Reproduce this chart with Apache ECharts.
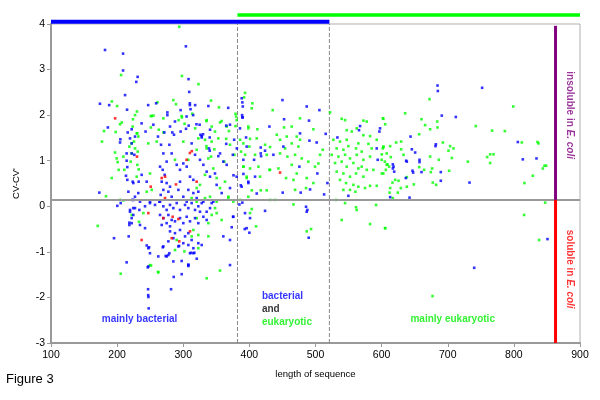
<!DOCTYPE html>
<html><head><meta charset="utf-8">
<script src="https://cdn.jsdelivr.net/npm/echarts@6/dist/echarts.min.js"></script>
<style>html,body{margin:0;padding:0;background:#fff}#c{width:600px;height:400px}</style>
</head><body><div id="c"></div>
<script>
// ---- data (length of sequence, CV-CV') ----
const xRange = [100, 900];
const yRange = [-3, 4];
const splitLengths = [382, 521];
const cvThreshold = 0.14;
const solubilityLength = 863;
const bacterialSpan = [100, 521];
const eukaryoticSpan = [382, 900];

const bluePoints = [
[181.7,3.43],[209,3.35],[209,2.98],[231,2.84],[229,2.73],[212,2.44],[304,3.51],[308,2.79],[309,2.51],[174,2.25],[188,2.22],[215,2.12],[247,2.22],[259,2.26],[276,2.06],[276,2.0],[296,2.11],[310,2.26],[310,2.22],[318,2.22],[311,2.13],[186,1.73],[216,1.62],[237,1.82],[243,1.64],[280,1.75],[286,1.57],[296,1.64],[305,1.97],[315,2.0],[320,1.8],
[338,2.2],[368,2.16],[365,1.77],[377,1.46],[365,1.37],[353,1.1],[375,1.13],[381,1.27],[376,0.68],[340,1.51],[328,1.51],[326,1.57],[339,1.27],[340,1.22],
[254.8,1.79],[287.5,1.86],[261.8,1.53],[283.5,1.62],[304.2,1.70],[308.2,1.77],[324.8,1.79],[327.9,1.54],[329.9,1.58],[271.4,1.62],[340.5,1.68],[370.7,1.79],[389.9,1.95],[385.8,1.71],[395.9,1.31],[390.9,1.02],[380.8,0.65],[388.3,0.43],[398.4,0.54],[266.4,1.35],[279,1.35],[282.5,1.16],[269.9,1.16],[274.9,0.98],[264.9,0.87],[268.9,0.80],[271.9,0.69],[267.4,0.54],[274.9,0.51],[280,0.43],[277.5,0.32],[282.5,0.21],[269.9,0.36],[265.9,0.25],[290.1,0.91],[295.1,0.80],[300.1,0.94],[305.2,0.87],[310.2,0.65],[315.3,0.58],[307.7,0.36],[315.3,0.29],[322.8,0.32],[320.3,0.18],[295.1,0.54],[292.6,0.36],[300.1,0.21],[312.7,1.38],[317.8,1.13],[325.3,1.02],[330.4,0.91],[335.4,0.76],[340.5,0.65],[348,0.72],[355.6,1.16],[360.6,0.98],[365.7,0.91],[350.5,0.47],[358.1,0.29],[370.7,0.40],[224.5,0.14],[234.6,0.10],[249.7,0.10],[263.9,0.10],[305.2,0.10],[330.4,0.10],[345.5,0.10],[244.7,0.54],[224.5,0.51],[237.1,0.69],[227.1,1.53],[222,1.16],
[224.5,-0.04],[233.6,-0.08],[242.2,0.0],[249.7,0.07],[257.3,0.03],[264.9,0.10],[269.9,0.0],[274.9,-0.08],[280,0.03],[285,-0.04],[290.1,0.07],[295.1,-0.08],[302.7,0.03],[307.7,-0.04],[312.7,0.07],[317.8,-0.08],[322.8,0.0],[325.3,-0.12],[327.9,0.07],[264.9,-0.19],[269.9,-0.26],[277.5,-0.19],[282.5,-0.30],[274.9,-0.37],[267.4,-0.41],[280,-0.44],[287.5,-0.33],[295.1,-0.26],[300.1,-0.37],[305.2,-0.23],[310.2,-0.33],[317.8,-0.26],[322.8,-0.37],[330.4,-0.23],[335.4,-0.30],[280,-0.55],[287.5,-0.59],[295.1,-0.52],[302.7,-0.66],[307.7,-0.59],[312.7,-0.74],[307.7,-0.85],[315.3,-0.92],[310.2,-1.03],[300.1,-0.81],[292.6,-0.88],[285,-0.70],[277.5,-0.77],[269.9,-0.88],[279,-1.03],[274.9,-1.10],[262.3,-1.10],[247.2,-0.92],[249.7,-1.03],[242.2,-0.48],[234.6,-0.41],[247.2,-1.32],[297.6,-1.20],[307.7,-1.29],[315.3,-1.03],[360.6,-0.66],[370.7,-0.74],[375.7,-0.23],[395.9,-0.48],[393.4,-0.15],[219.5,-0.12],[343,0.07],[335.4,-0.12],[340.5,-0.04],[322.8,-0.81],[327.9,-0.85],[370.7,-1.29],
[222,1.69],[204.9,1.47],[204.4,1.40],[219.5,1.49],[222,1.38],[214.4,1.16],[226,1.13],[214.4,1.00],[215.4,0.86],[213.4,0.67],[215.4,0.58],[223.5,0.54],[232.6,0.54],[173.1,0.30],[217,0.32],[223,0.14],[227,0.21],[232,0.29],[205.4,0.07],[200.3,0.01],[219.5,-0.08],[227,-0.04],[224.5,-0.19],[222,-0.26],[218.5,-0.36],[222,-0.37],[218.5,-0.41],[195.3,-0.70],[217.5,-0.66],[214.4,-1.23],
[246.3,-1.34],[246.8,-1.82],[247,-1.95],[247.3,-1.99],[247.8,-2.24],[281.6,-1.82],[285.6,-1.55],[297.7,-1.49],[307.7,-1.28],[307.7,-1.31],[285,-1.21],[269,-0.9],[277.5,-1.07],[273.5,-1.09],[293.7,-0.87],[311.8,-1.02],[316.8,-1.02],[320.4,-1.15],[244.8,-0.86],[248.3,-0.90],
[388.4,2.37],[389.4,2.28],[390,2.19],[389,2.0],[389.4,1.95],[450,2.33],[452.5,1.91],[486.7,2.19],[505.9,2.11],[490.2,1.88],[430.3,1.75],[395,1.51],[417.2,1.29],[417.2,1.16],[417.7,1.10],[423.7,1.22],[407.1,1.02],[436.3,1.13],[451.4,1.31],[476.6,1.6],[490.8,1.44],[501.8,1.40],[515.4,1.59],[475.6,0.87],[391,0.71],[408.6,0.65],[398.5,0.51],[502.8,0.72],[518,0.51],[450.4,0.30],[477.6,0.30],[491.8,0.37],[513,0.26],[411.1,0.28],[387,0.46],[533.1,1.51],[567.4,1.76],[565.8,1.67],[597.6,1.71],[596.6,1.64],[592.6,1.27],[594.1,1.02],[549.7,0.23],[384.9,0.04],[389.4,0.08],[393,-0.50],[400,-0.58],[401,-0.26],[423.7,-0.10],[485.7,-0.01],[487.7,-0.08],[486.7,-0.12],[489.7,-0.69],[375.3,-0.23],[373.3,-0.46],
[684.5,2.65],[685,2.53],[752,2.60],[691,1.99],[712.2,1.96],[643.7,1.53],[806,1.41],[682,1.36],[681.5,1.32],[645.7,1.25],[650.7,1.18],[637.1,1.00],[638.1,0.98],[657.3,1.02],[657.3,0.97],[813.5,1.03],[834.2,1.05],[617,0.92],[618,0.87],[617,0.83],[619,0.76],[646.7,0.78],[647.7,0.74],[660.3,0.75],[689.5,0.75],[636.6,0.62],[689.5,0.56],[732.9,0.52],[612.9,0.20],[642.2,0.19],[850.8,-0.72],[740,-1.35]
];

const greenPoints = [
[294,3.94],[298,2.86],[206,2.88],[192,2.3],[200,2.2],[230,2.08],[261,2.28],[285,2.33],[289,2.24],[323,2.68],[207,1.84],[224,1.91],[251,1.98],[255,1.99],[251,1.73],[263,1.68],[270,1.62],[293,1.89],[298,1.95],[302,1.81],[318,1.71],
[342,2.32],[354,2.17],[379,2.03],[335,1.87],[348,1.64],[358,1.87],[369,1.65],[379,1.76],[365,1.48],[347,1.25],[362,0.98],[335,1.32],[342,1.09],
[227.1,2.0],[252.3,1.98],[269.9,1.93],[297.6,1.98],[313.7,2.03],[335.4,1.89],[343,1.75],[355.6,1.84],[365.7,1.75],[380.8,1.89],[398.4,1.75],[223.5,1.75],[232.1,1.53],[222,1.38],[229.6,1.60],[247.2,1.38],[259.8,1.42],[300.1,1.42],[322.8,1.49],[332.9,1.46],[343,1.42],[353,1.49],[370.7,1.35],[390.9,1.38],[230.6,0.91],[229.6,0.65],[249.7,0.72],[252.3,0.36],[244.7,0.32],[287.5,1.02],[307.7,1.02],[320.3,1.24],[335.4,1.27],[337.9,1.05],[345.5,0.83],[332.9,0.69],[350.5,0.62],[355.6,0.40],[363.1,0.54],[325.3,0.47],[320.3,0.40],[368.2,0.18],[340.5,0.21],[390.9,0.87],[395.9,0.65],[398.4,0.21],[385.8,0.14],
[222,-0.19],[239.7,-0.15],[312.7,0.18],[320.3,0.10],[332.9,0.18],[350.5,0.10],[368.2,0.21],[343,-0.19],[350.5,-0.15],[358.1,-0.30],[338,-0.37],[320.3,-0.26],[315.3,-0.52],[322.8,-0.63],[312.7,-0.66],[338,-0.66],[290.1,-0.74],[287.5,-0.96],[322.8,-0.92],[249.7,-1.29],[262.3,-1.45],[355.6,-1.41],[335.4,-1.58],[348,-0.04],
[204.4,1.80],[180.2,1.65],[197.8,1.63],[230.6,1.60],[177.1,1.42],[225.5,1.42],[218.5,1.31],[227.1,1.27],[196.8,1.18],[222,1.16],[231.1,1.20],[199.3,1.05],[209.4,1.09],[220.5,0.98],[200.8,0.97],[202.3,0.80],[210.9,0.80],[232.6,0.81],[191.8,0.62],[183.2,0.22],[204.4,0.14],[209.4,0.13],[170.6,-0.43],[205.4,-1.48],[233.1,-0.34],
[251.3,-1.30],[261.9,-1.44],[301.7,-0.99],
[393.5,2.49],[392,2.39],[404.6,2.26],[403.6,2.15],[435.3,2.11],[476.6,1.93],[452.5,1.73],[464,1.75],[398.5,1.71],[412.1,1.69],[496.8,1.69],[386,1.46],[401,1.48],[411.1,1.49],[441.4,1.57],[446.4,1.46],[456.5,1.53],[471.6,1.53],[476.6,1.46],[464,1.38],[474.1,1.31],[454,1.27],[431.3,1.30],[423.7,1.35],[400,1.31],[387.4,1.20],[393.5,1.13],[408.6,1.13],[426.2,1.13],[446.4,1.16],[457.5,1.09],[469.1,1.13],[479.2,1.05],[489.2,0.98],[506.9,1.13],[510.9,1.24],[391,0.87],[401,0.83],[413.6,0.87],[431.3,0.80],[443.9,0.83],[464,0.91],[471.6,0.72],[499.3,0.87],[504.4,0.94],[396,0.62],[416.2,0.65],[430.3,0.80],[455.5,0.62],[466.6,0.58],[486.7,0.62],[496.8,0.51],[403.6,0.35],[417.2,0.35],[426.2,0.35],[469.1,0.36],[485.7,0.40],[431.3,0.14],[438.8,0.14],[466.6,0.04],[403.6,-0.06],[401,-0.15],[410.1,-0.44],[486.7,-0.55],[493.3,-0.50],[375.8,0.10],[377.4,1.13],[379.9,1.97],
[522,2.06],[539.6,1.92],[544.7,1.89],[572.4,1.88],[577.5,1.86],[602.6,1.92],[547.2,1.67],[554.8,1.64],[562.3,1.71],[572.4,1.56],[582.5,1.54],[527,1.46],[537.1,1.42],[547.2,1.46],[564.8,1.38],[580,1.37],[592.6,1.46],[602.6,1.31],[532,1.27],[542.2,1.24],[549.7,1.32],[561.3,1.27],[569.9,1.20],[585,1.27],[607.7,1.16],[524.5,1.13],[534.6,1.09],[544.7,1.13],[552.2,1.05],[562.3,1.13],[572.4,1.02],[582.5,1.09],[600.1,1.02],[529.6,0.95],[539.6,0.98],[547.2,0.87],[557.3,0.95],[564.8,0.83],[569.9,0.87],[577.5,0.80],[587.5,0.80],[602.6,0.72],[607.7,0.91],[532.1,0.76],[542.2,0.72],[552.2,0.65],[561.3,0.72],[572.4,0.65],[537.1,0.58],[546.2,0.51],[557.3,0.47],[564.8,0.43],[574.9,0.40],[582.5,0.45],[592.6,0.45],[552.2,0.36],[560.3,0.32],[542.2,0.36],[531,0.14],[544.7,0.07],[561.3,-0.02],[562.3,-0.08],[539.6,-0.30],[582.5,-0.39],[591.6,0.03],[605.2,-0.48],
[672.4,2.35],[799,2.19],[635.6,2.04],[601.8,1.93],[605.4,1.80],[660.3,1.91],[665.8,1.78],[684,1.86],[684.5,1.73],[673.4,1.69],[742.4,1.76],[767.1,1.66],[786.3,1.65],[656.8,1.58],[812,1.40],[835.7,1.41],[837.2,1.38],[622,1.40],[629.5,1.42],[692.6,1.40],[703.6,1.32],[708.7,1.27],[701.1,1.22],[601.8,1.27],[602.8,1.30],[612.9,1.32],[629.5,1.25],[633.1,1.13],[613.9,1.08],[600.3,1.14],[604.9,0.98],[608.9,0.92],[673.4,1.09],[686.5,1.02],[706.2,1.06],[764.1,1.14],[769.2,1.14],[759.6,1.08],[730.4,0.98],[764.1,0.95],[848.8,0.89],[846.3,0.89],[843.8,0.83],[611.4,0.87],[606.4,0.80],[600.3,0.72],[656.8,0.86],[664.3,0.80],[676.4,0.83],[702.1,0.78],[674.4,0.75],[828.6,0.67],[620.5,0.58],[625.5,0.56],[638.1,0.64],[677.4,0.52],[682.5,0.47],[648.7,0.48],[638.1,0.43],[612.9,0.40],[629.1,0.40],[616.4,0.52],[816,0.51],[624.5,0.30],[612,0.30],[616.9,0.18],[847.3,0.08],[815.5,-0.19],[605.4,-0.48],[838.2,-0.74],[677,-1.97]
];

const redPoints = [
[197,1.93],[230,1.09],[310,1.17],[313,1.21],[305,1.02],[272.5,0.65],[250.8,0.43],[320.3,0.54],[267.4,0.62],[289,0.48],[272.4,0.18],[247.2,-0.15],[269.9,-0.26],[284,-0.23],[292.6,-0.28],[310.2,-0.55],[282.5,-0.70],[294,-0.77],[237.1,-0.74],[446.4,0.74]
];

const FONT = 'Arial, "Liberation Sans", sans-serif';
const chart = echarts.init(document.getElementById('c'), null, {renderer: 'canvas'});

function seg(data, color, width, extra) {
  return Object.assign({
    type: 'line', data: data, showSymbol: false, symbol: 'none', silent: true, clip: false,
    lineStyle: {color: color, width: width}, animation: false, z: 1
  }, extra || {});
}
function dots(data, color, z) {
  return {type: 'scatter', data: data, symbol: 'rect', symbolSize: 2.6,
    itemStyle: {color: color}, silent: true, animation: false, z: z};
}
function textMark(pt, text, opts) {
  return {type: 'scatter', data: [pt], symbolSize: 0, silent: true, animation: false, z: 10,
    label: Object.assign({show: true, position: [0, 0], formatter: text, fontFamily: FONT,
      align: 'center', verticalAlign: 'middle'}, opts)};
}

const option = {
  animation: false,
  backgroundColor: '#fff',
  grid: {left: 51, right: 20, top: 24, bottom: 57, show: true, borderColor: '#b0b0b0', borderWidth: 1},
  xAxis: {
    type: 'value', min: xRange[0], max: xRange[1], interval: 100,
    name: 'length of sequence', nameLocation: 'middle', nameGap: 26,
    nameTextStyle: {fontFamily: FONT, fontSize: 9.5, color: '#000'},
    axisLine: {show: true, onZero: false, lineStyle: {color: '#999', width: 2}},
    axisTick: {show: true, length: 4, lineStyle: {color: '#999', width: 1}},
    axisLabel: {fontFamily: FONT, fontSize: 10.5, color: '#000', margin: 7},
    splitLine: {show: false}
  },
  yAxis: {
    type: 'value', min: yRange[0], max: yRange[1], interval: 1,
    name: "CV-CV'", nameLocation: 'middle', nameGap: 30, nameRotate: 90,
    nameTextStyle: {fontFamily: FONT, fontSize: 9.5, color: '#000'},
    axisLine: {show: true, onZero: false, lineStyle: {color: '#999', width: 2}},
    axisTick: {show: true, length: 4, lineStyle: {color: '#999', width: 1}},
    axisLabel: {fontFamily: FONT, fontSize: 10.5, color: '#000', margin: 6},
    splitLine: {show: false}
  },
  graphic: [{type: 'text', left: 6, top: 373, style: {text: 'Figure 3', fontFamily: FONT, fontSize: 13, fill: '#000'}}],
  series: [
    seg([[splitLengths[0], yRange[0]], [splitLengths[0], yRange[1]]], '#888', 1, {lineStyle: {color: '#888', width: 1, type: [4, 2]}}),
    seg([[splitLengths[1], yRange[0]], [splitLengths[1], yRange[1]]], '#888', 1, {lineStyle: {color: '#888', width: 1, type: [4, 2]}}),
    dots(greenPoints, '#00ff00', 3),
    dots(bluePoints, '#0000ff', 4),
    dots(redPoints, '#ff0000', 5),
    seg([[xRange[0], cvThreshold], [xRange[1], cvThreshold]], '#999', 2, {z: 6}),
    seg([[bacterialSpan[0], 4.05], [bacterialSpan[1], 4.05]], '#0000ff', 4, {z: 6}),
    seg([[eukaryoticSpan[0], 4.2], [eukaryoticSpan[1], 4.2]], '#00ff00', 3.5, {z: 6}),
    seg([[solubilityLength, cvThreshold], [solubilityLength, 3.96]], '#800080', 3, {z: 7}),
    seg([[solubilityLength, yRange[0]], [solubilityLength, cvThreshold]], '#ff0000', 3, {z: 7}),
    textMark([234, -2.47], 'mainly bacterial', {color: '#0000ff', fontWeight: 'bold', fontSize: 10}),
    textMark([707.5, -2.47], 'mainly eukaryotic', {color: '#00ee00', fontWeight: 'bold', fontSize: 10}),
    textMark([419, -2.25], '{b|bacterial}\n{k|and}\n{g|eukaryotic}', {align: 'left', lineHeight: 13,
      rich: {
        b: {color: '#0000ff', fontWeight: 'bold', fontSize: 10, fontFamily: FONT, lineHeight: 13},
        k: {color: '#000', fontWeight: 'bold', fontSize: 10, fontFamily: FONT, lineHeight: 13},
        g: {color: '#00ee00', fontWeight: 'bold', fontSize: 10, fontFamily: FONT, lineHeight: 13}
      }}),
    textMark([884, 2.0], '{n|insoluble in }{i|E. coli}', {rotate: -90,
      rich: {
        n: {color: '#800080', fontWeight: 'bold', fontSize: 10, fontFamily: FONT},
        i: {color: '#800080', fontWeight: 'bold', fontStyle: 'italic', fontSize: 10, fontFamily: FONT}
      }}),
    textMark([884, -1.38], '{n|soluble in }{i|E. coli}', {rotate: -90,
      rich: {
        n: {color: '#ff0000', fontWeight: 'bold', fontSize: 10, fontFamily: FONT},
        i: {color: '#ff0000', fontWeight: 'bold', fontStyle: 'italic', fontSize: 10, fontFamily: FONT}
      }})
  ]
};
chart.setOption(option);
</script>
</body></html>
